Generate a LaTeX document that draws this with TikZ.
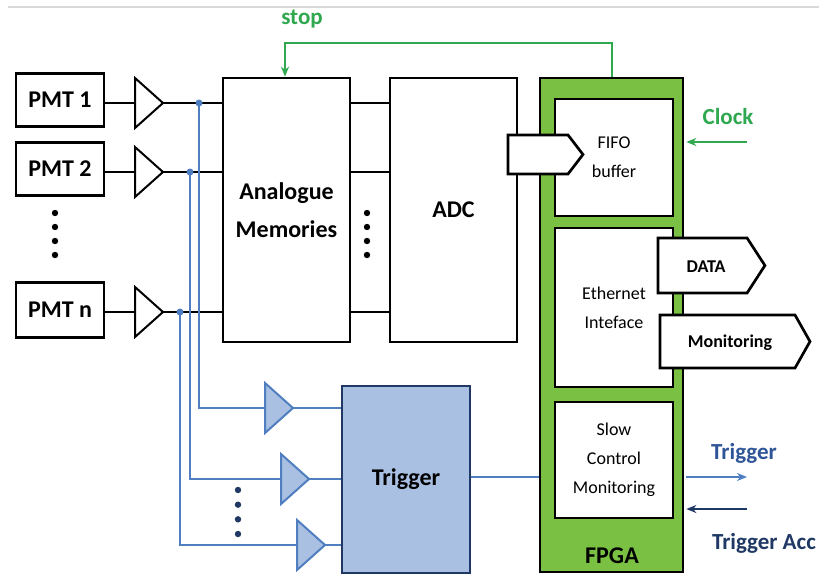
\documentclass[tikz,border=0pt]{standalone}
\usepackage{fontspec}
\setmainfont{Carlito}
\usetikzlibrary{arrows.meta,shapes.symbols}
\definecolor{fgreen}{HTML}{7AC143}
\definecolor{sgreen}{HTML}{2FA84F}
\definecolor{lblue}{HTML}{4F7FC0}
\definecolor{tfill}{HTML}{A9C0E2}
\definecolor{navy}{HTML}{1F3864}
\definecolor{tblue}{HTML}{2E5597}
\begin{document}
\begin{tikzpicture}[x=1pt,y=-1pt,
  box/.style={draw=black, line width=2.7pt, fill=white, inner sep=0pt, rectangle, align=center},
  big/.style={font=\fontsize{24}{38}\selectfont\bfseries},
  small/.style={font=\fontsize{18}{29}\selectfont},
  wire/.style={draw=black, line width=2.7pt},
  bwire/.style={draw=lblue, line width=2pt},
  gwire/.style={draw=sgreen, line width=2pt},
  amp/.style={draw=black, line width=2pt, fill=white, line join=miter},
  bamp/.style={draw=lblue, line width=2pt, fill=tfill, line join=miter},
  sig/.style={draw=black, line width=2.7pt, fill=white, shape=signal, signal to=east, inner sep=0pt},
  sigtxt/.style={font=\fontsize{18}{22}\selectfont\bfseries, inner sep=0pt},
  lbl/.style={font=\fontsize{23}{26}\selectfont\bfseries, inner sep=0pt}]
\useasboundingbox (0,0) rectangle (819,576);
\fill[white] (0,0) rectangle (819,576);
\draw[black!15, line width=1.5pt] (8,7) -- (819,7);

% PMT boxes
\node[box, big, minimum width=88, minimum height=53] (pmt1) at (60,100) {PMT 1};
\node[box, big, minimum width=88, minimum height=53] (pmt2) at (60,169) {PMT 2};
\node[box, big, minimum width=88, minimum height=55] (pmtn) at (60,310) {PMT n};
\foreach \y in {213,227,241,255} \fill (55,\y) circle (3.2);

% main boxes
\node[box, big, minimum width=127, minimum height=264] (am) at (286.5,210) {Analogue\\Memories};
\node[box, big, minimum width=127, minimum height=264] (adc) at (453.5,210) {ADC};
\node[draw=navy, line width=2pt, fill=tfill, inner sep=0pt, minimum width=128, minimum height=187, big] (trig) at (406,479.5) {Trigger};

% amplifiers (black)
\coordinate (a1) at (135,103);
\coordinate (a2) at (135,172);
\coordinate (an) at (135,312);
\foreach \a in {a1,a2,an}{
  \draw[amp] (\a) -- ++(0,-25) -- ++(28,25) coordinate (\a o) -- ++(-28,25) -- cycle;
  \draw[wire] (\a o) -- (\a o -| am.west);
  \draw[wire] (\a o -| am.east) -- (\a o -| adc.west);
}
\draw[wire] (pmt1.east |- a1) -- (a1);
\draw[wire] (pmt2.east |- a2) -- (a2);
\draw[wire] (pmtn.east |- an) -- (an);
\foreach \y in {213,227,241,255} \fill (367,\y) circle (3.2);

% blue trigger branches
\coordinate (j1) at (199,103);
\coordinate (j2) at (190,172);
\coordinate (jn) at (180,312);
\coordinate (b1) at (265,408);
\coordinate (b2) at (281,479);
\coordinate (bn) at (297,545);
\draw[bwire] (j1) |- (b1);
\draw[bwire] (j2) |- (b2);
\draw[bwire] (jn) |- (bn);
\foreach \j in {j1,j2,jn} \fill[lblue] (\j) circle (3.5);
\foreach \b in {b1,b2,bn}{
  \draw[bamp] (\b) -- ++(0,-25) -- ++(28,25) coordinate (\b o) -- ++(-28,25) -- cycle;
  \draw[bwire] (\b o) -- (\b o -| trig.west);
}
\foreach \y in {490,504.7,519.3,534} \fill[navy] (238,\y) circle (3.2);

% FPGA
\node[draw=black, line width=2.7pt, fill=fgreen, inner sep=0pt, minimum width=143, minimum height=494] (fpga) at (611.5,325) {};
\node[box, small, minimum width=118, minimum height=117] (fifo) at (614,157.5) {FIFO\\buffer};
\node[box, small, minimum width=118, minimum height=159] (eth) at (614,307.5) {Ethernet\\Inteface};
\node[box, small, minimum width=118, minimum height=116] (slow) at (614,460) {Slow\\Control\\Monitoring};
\node[big, inner sep=0pt] (fpgalbl) at (612,556) {FPGA};

% signal arrows
\node[sig, minimum width=75, minimum height=39, signal pointer angle=105] (adcfifo) at (538,154.5) {};
\node[sig, minimum width=107, minimum height=55, signal pointer angle=114] (data) at (702.5,265.5) {};
\node[sigtxt] (datatxt) at (706,267) {DATA};
\node[sig, minimum width=150, minimum height=53, signal pointer angle=121] (mon) at (727.5,341.5) {};
\node[sigtxt] (montxt) at (730,343) {Monitoring};

% stop feedback
\draw[gwire, -{Stealth[length=10pt,width=8pt]}] (fpga.north) -- ++(0,-34) -| ([xshift=-1.5pt]am.north);
\node[lbl, text=sgreen] (stoplbl) at (302,19) {stop};

% clock
\coordinate (clk) at (747,142);
\draw[gwire, -{Stealth[length=10pt,width=8pt]}] (clk) -- ([xshift=2pt]fpga.east |- clk);
\node[lbl, text=sgreen] (clocklbl) at (728,117) {Clock};

% trigger out / acc
\coordinate (tr) at (747,477);
\coordinate (ta) at (747,509);
\draw[bwire] (trig.east |- tr) -- (fpga.west |- tr);
\draw[bwire, -{Stealth[length=10pt,width=8pt]}] ([xshift=2pt]fpga.east |- tr) -- (tr);
\draw[navy, line width=2pt, -{Stealth[length=10pt,width=8pt]}] (ta) -- ([xshift=2pt]fpga.east |- ta);
\node[lbl, text=tblue] (trlbl) at (744,453) {Trigger};
\node[lbl, text=navy] (talbl) at (764,543) {Trigger Acc};
\end{tikzpicture}
\end{document}
